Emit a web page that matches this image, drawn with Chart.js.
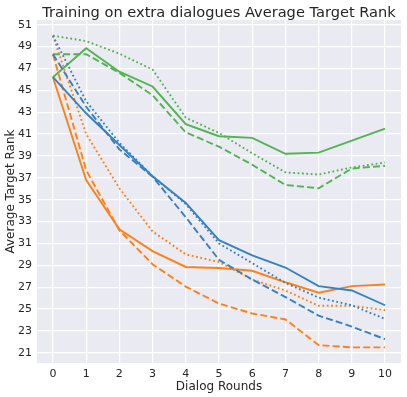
<!DOCTYPE html>
<html>
<head>
<meta charset="utf-8">
<script src="https://cdn.jsdelivr.net/npm/chart.js@4/dist/chart.umd.min.js"></script>
<style>
html,body{margin:0;padding:0;background:#fff;}
#wrap{width:407px;height:397px;position:relative;}
</style>
</head>
<body>
<div id="wrap"><canvas id="c" width="407" height="397"></canvas></div>
<script>
const rounds = [0,1,2,3,4,5,6,7,8,9,10];
const blueSolid  = [46.2,42.9,40.0,37.15,34.7,31.3,29.9,28.8,27.1,26.7,25.35];
const blueDashed = [48.3,43.5,39.6,37.1,33.4,29.5,27.7,26.1,24.4,23.4,22.25];
const blueDotted = [50.0,44.0,40.2,37.15,34.6,31.0,29.2,27.4,26.05,25.35,24.1];
const orangeSolid  = [46.2,36.8,32.3,30.3,28.85,28.75,28.5,27.45,26.5,27.1,27.25];
const orangeDashed = [48.3,37.7,32.2,29.1,27.05,25.5,24.6,24.05,21.7,21.5,21.5];
const orangeDotted = [50.0,41.0,36.05,32.1,30.0,29.3,27.7,26.7,25.3,25.3,24.9];
const greenSolid  = [46.2,48.85,46.7,45.35,41.9,40.8,40.65,39.2,39.3,40.4,41.5];
const greenDashed = [48.3,48.3,46.6,44.55,41.15,39.85,38.2,36.35,36.05,37.85,38.1];
const greenDotted = [50.0,49.5,48.35,46.9,42.5,41.1,39.25,37.5,37.3,37.95,38.4];
const yTickLabels = [21,23,25,27,29,31,33,35,37,39,41,43,45,47,49,51];
const titleText = 'Training on extra dialogues Average Target Rank';

const BLUE = '#3681c0', ORANGE = '#ff8014', GREEN = '#52b352';
const DASH = [7, 3.2], DOT = [1.8, 2.6];
function ds(vals, color, dash){
  return {data: rounds.map((r,i)=>({x:r,y:vals[i]})), borderColor: color, backgroundColor: color,
    borderWidth: 1.9, borderDash: dash, pointRadius: 0, tension: 0, fill: false, borderCapStyle:'butt'};
}
const TXT = '#262626';
const bgPlugin = {
  id:'bg',
  beforeDraw(chart){
    const {ctx, chartArea:a} = chart;
    ctx.save();
    ctx.fillStyle = '#fff';
    ctx.fillRect(0,0,chart.width,chart.height);
    ctx.fillStyle = '#eaeaf2';
    ctx.fillRect(a.left, a.top, a.right-a.left, a.bottom-a.top);
    ctx.restore();
  },
  afterDraw(chart){
    const {ctx, chartArea:a} = chart;
    ctx.save();
    ctx.fillStyle = TXT;
    ctx.font = '14.6px "DejaVu Sans"';
    ctx.textAlign = 'center';
    ctx.textBaseline = 'alphabetic';
    ctx.fillText(titleText, (a.left + a.right)/2, 16.5);
    ctx.restore();
  }
};
new Chart(document.getElementById('c'), {
  type: 'line',
  data: { datasets: [
    ds(blueSolid, BLUE, []), ds(blueDashed, BLUE, DASH), ds(blueDotted, BLUE, DOT),
    ds(orangeSolid, ORANGE, []), ds(orangeDashed, ORANGE, DASH), ds(orangeDotted, ORANGE, DOT),
    ds(greenSolid, GREEN, []), ds(greenDashed, GREEN, DASH), ds(greenDotted, GREEN, DOT)
  ]},
  options: {
    responsive: false, animation: false, devicePixelRatio: 1,
    layout: { padding: { top: 20, right: 6, left: 4, bottom: 3 } },
    plugins: { legend: { display: false }, tooltip: { enabled: false }, title: { display: false } },
    scales: {
      x: { type: 'linear', min: -0.48, max: 10.48,
        afterFit(s){ s.height = 31; },
        border: { display: false },
        grid: { color: '#ffffff', lineWidth: 1.2, drawTicks: false },
        ticks: { stepSize: 1, includeBounds: false, color: TXT, padding: 5,
          font: { family: 'DejaVu Sans', size: 11 }, callback: v => Number.isInteger(v) ? String(v) : null },
        title: { display: true, text: 'Dialog Rounds', color: TXT, padding: { top: 0, bottom: 0 },
          font: { family: 'DejaVu Sans', size: 12 } }
      },
      y: { type: 'linear', min: 20.07, max: 51.43,
        afterFit(s){ s.width = 33; },
        border: { display: false },
        grid: { color: '#ffffff', lineWidth: 1.2, drawTicks: false },
        ticks: { stepSize: 1, includeBounds: false, color: TXT, padding: 5,
          font: { family: 'DejaVu Sans', size: 11 },
          callback: v => yTickLabels.includes(v) ? String(v) : '' },
        title: { display: true, text: 'Average Target Rank', color: TXT, padding: { top: 0, bottom: 2 },
          font: { family: 'DejaVu Sans', size: 12 } }
      }
    }
  },
  plugins: [bgPlugin]
});
</script>
</body>
</html>
